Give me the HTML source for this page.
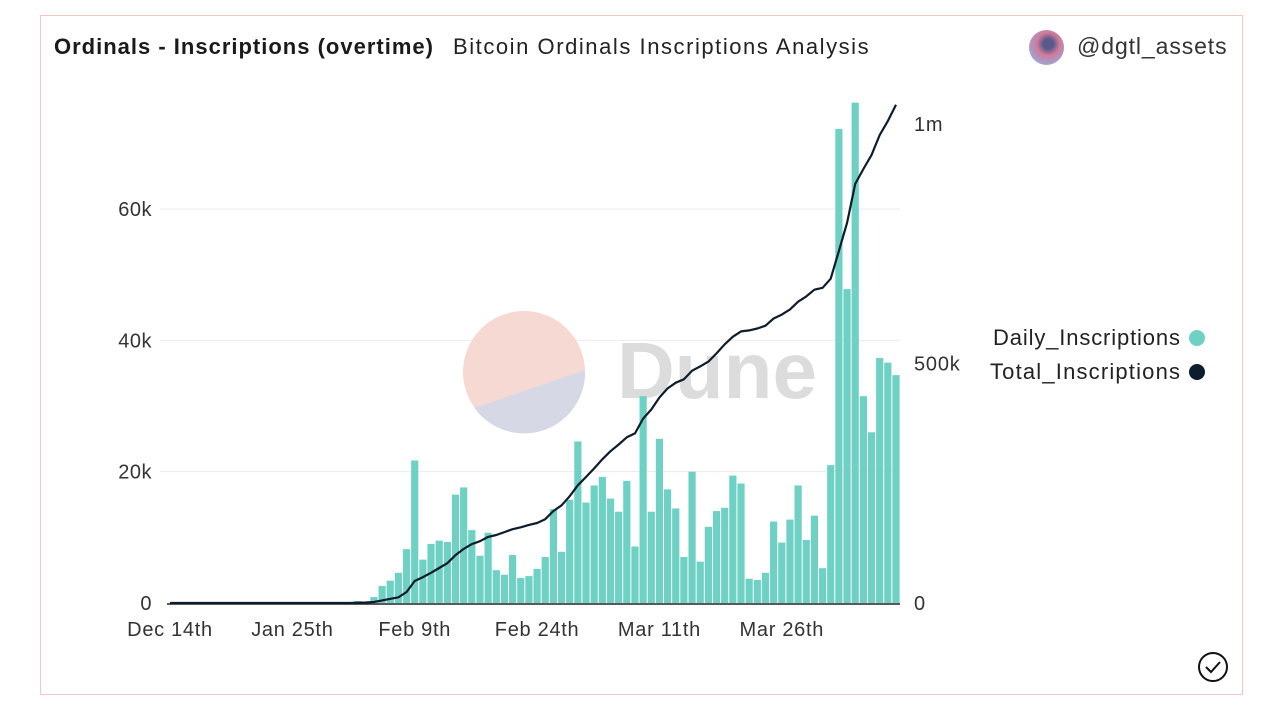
<!DOCTYPE html>
<html><head><meta charset="utf-8">
<style>
body{margin:0;width:1280px;height:720px;background:#fff;font-family:"Liberation Sans",sans-serif;overflow:hidden;position:relative}
#card{position:absolute;left:40px;top:15px;width:1203px;height:680px;border:1.5px solid #f2c9c0;box-sizing:border-box}
.t{position:absolute;white-space:nowrap;color:#1a1a1a}
</style></head><body>
<div id="card"></div>
<div class="t" style="left:54px;top:34px;font-size:22px;font-weight:bold;letter-spacing:1px">Ordinals - Inscriptions (overtime)</div>
<div class="t" style="left:453px;top:34px;font-size:22px;color:#222;letter-spacing:1.55px">Bitcoin Ordinals Inscriptions Analysis</div>
<div style="position:absolute;left:1029px;top:30px;width:35px;height:35px;border-radius:50%;background:radial-gradient(circle at 55% 40%,#5a5a8a 0 18%,#d07a9a 40%,#9aa8d8 75%)"></div>
<div class="t" style="left:1077px;top:33px;font-size:23px;color:#333;letter-spacing:0.9px">@dgtl_assets</div>
<svg width="1280" height="720" style="position:absolute;left:0;top:0" id="svg"></svg>
<script>
const categories = ["Dec 14th","Jan 25th","Feb 9th","Feb 24th","Mar 11th","Mar 26th"];
const labelIndex = [0,15,30,45,60,75];
const leftTicks = [0,20000,40000,60000];
const leftTickLabels = ["0","20k","40k","60k"];
const rightTicks = [0,500000,1000000];
const rightTickLabels = ["0","500k","1m"];
const firstBarIndex = 23;
const daily = [0.3,0.1,0.9,2.6,3.4,4.6,8.2,21.7,6.6,9.0,9.5,9.3,16.5,17.6,11.1,7.2,10.7,5.0,4.3,7.3,3.8,4.1,5.2,7.0,14.3,7.8,15.7,24.6,15.3,17.9,19.2,15.9,13.9,18.6,8.6,31.5,13.9,25.0,17.3,14.4,7.0,20.0,6.3,11.6,14.0,14.5,19.4,18.2,3.7,3.5,4.6,12.4,9.2,12.7,17.9,9.6,13.3,5.3,21.0,72.2,47.8,76.2,31.5,26.0,37.3,36.6,34.7];
const totalIdx = [0,22,24,25,28,29,30,31,32,33,34,35,36,37,38,39,40,41,42,43,44,45,46,47,48,49,50,51,52,53,54,55,56,57,58,59,60,61,62,63,64,65,66,67,68,69,70,71,72,73,74,75,76,77,78,79,80,81,82,83,84,85,86,87,88,89];
const totalVal = [0,0,1,2,12,23,46,54,63,73,83,100,113,123,129,138,142,148,154,158,163,167,175,192,204,223,246,263,281,300,317,331,346,354,385,404,429,448,460,467,485,494,504,521,540,556,567,569,573,579,594,602,613,629,640,654,658,677,735,794,875,906,935,977,1006,1040];

const svg=document.getElementById('svg');
const NS='http://www.w3.org/2000/svg';
const X0=170,PITCH=(896-170)/89,BASE=603;
const x=i=>X0+i*PITCH;
const yL=v=>BASE-v*(603-209)/60000;
const yR=v=>BASE-v*(603-124)/1000000;
function el(t,a){const e=document.createElementNS(NS,t);for(const k in a)e.setAttribute(k,a[k]);svg.appendChild(e);return e;}
leftTicks.forEach((v,i)=>{
  if(i>0){const g=el('line',{x1:160,x2:900,y1:yL(v),y2:yL(v),stroke:'#ececec','stroke-width':1});
  
  }
  const t=el('text',{x:152,y:yL(v)+7,'text-anchor':'end','font-size':20,fill:'#333','letter-spacing':0.5});t.textContent=leftTickLabels[i];
  
  
});
rightTicks.forEach((v,i)=>{
  const t=el('text',{x:914,y:yR(v)+7,'font-size':20,fill:'#333','letter-spacing':0.8});t.textContent=rightTickLabels[i];
  
  
});
const w1=el('circle',{cx:524,cy:372,r:61,fill:'#f6d9d2'});


el('path',{d:'M474.5 408 A61 61 0 0 0 585 370 L 474.5 408 Z',fill:'#d7d8e6'});
const wt=el('text',{x:617,y:398,'font-size':80,'font-weight':'bold',fill:'#dcdcdc'});wt.textContent='Dune';


daily.forEach((v,k)=>{
  const i=firstBarIndex+k;const h=BASE-yL(v*1000);
  const b=el('rect',{x:x(i)-3.6,y:BASE-h,width:7.2,height:h,fill:'#6fd0c4'});
  
  
});
const ax=el('line',{x1:167,x2:900,y1:BASE+1,y2:BASE+1,stroke:'#222','stroke-width':1.5});


const pts=totalIdx.map((i,k)=>x(i).toFixed(1)+','+yR(totalVal[k]*1000).toFixed(1)).join(' ');
const ln=el('polyline',{points:pts,fill:'none',stroke:'#0e1d2b','stroke-width':2.2,'stroke-linejoin':'round'});


categories.forEach((c,k)=>{
  const t=el('text',{x:x(labelIndex[k]),y:636,'text-anchor':'middle','font-size':20,fill:'#333','letter-spacing':0.7});t.textContent=c;
  
  
});
[["Daily_Inscriptions","#6fd0c4",345,187],["Total_Inscriptions","#0e1d2b",379,190]].forEach(l=>{
  const t=el('text',{x:1180,y:l[2],'text-anchor':'end','font-size':22,fill:'#222',textLength:l[3],lengthAdjust:'spacing'});t.textContent=l[0];
  
  
  el('circle',{cx:1197,cy:l[2]-7,r:8,fill:l[1]});
});
const ci=el('circle',{cx:1213,cy:667,r:14,fill:'none',stroke:'#111','stroke-width':2});


el('path',{d:'M1206 667 l5 5 l9 -10',fill:'none',stroke:'#111','stroke-width':2});
</script>
</body></html>
